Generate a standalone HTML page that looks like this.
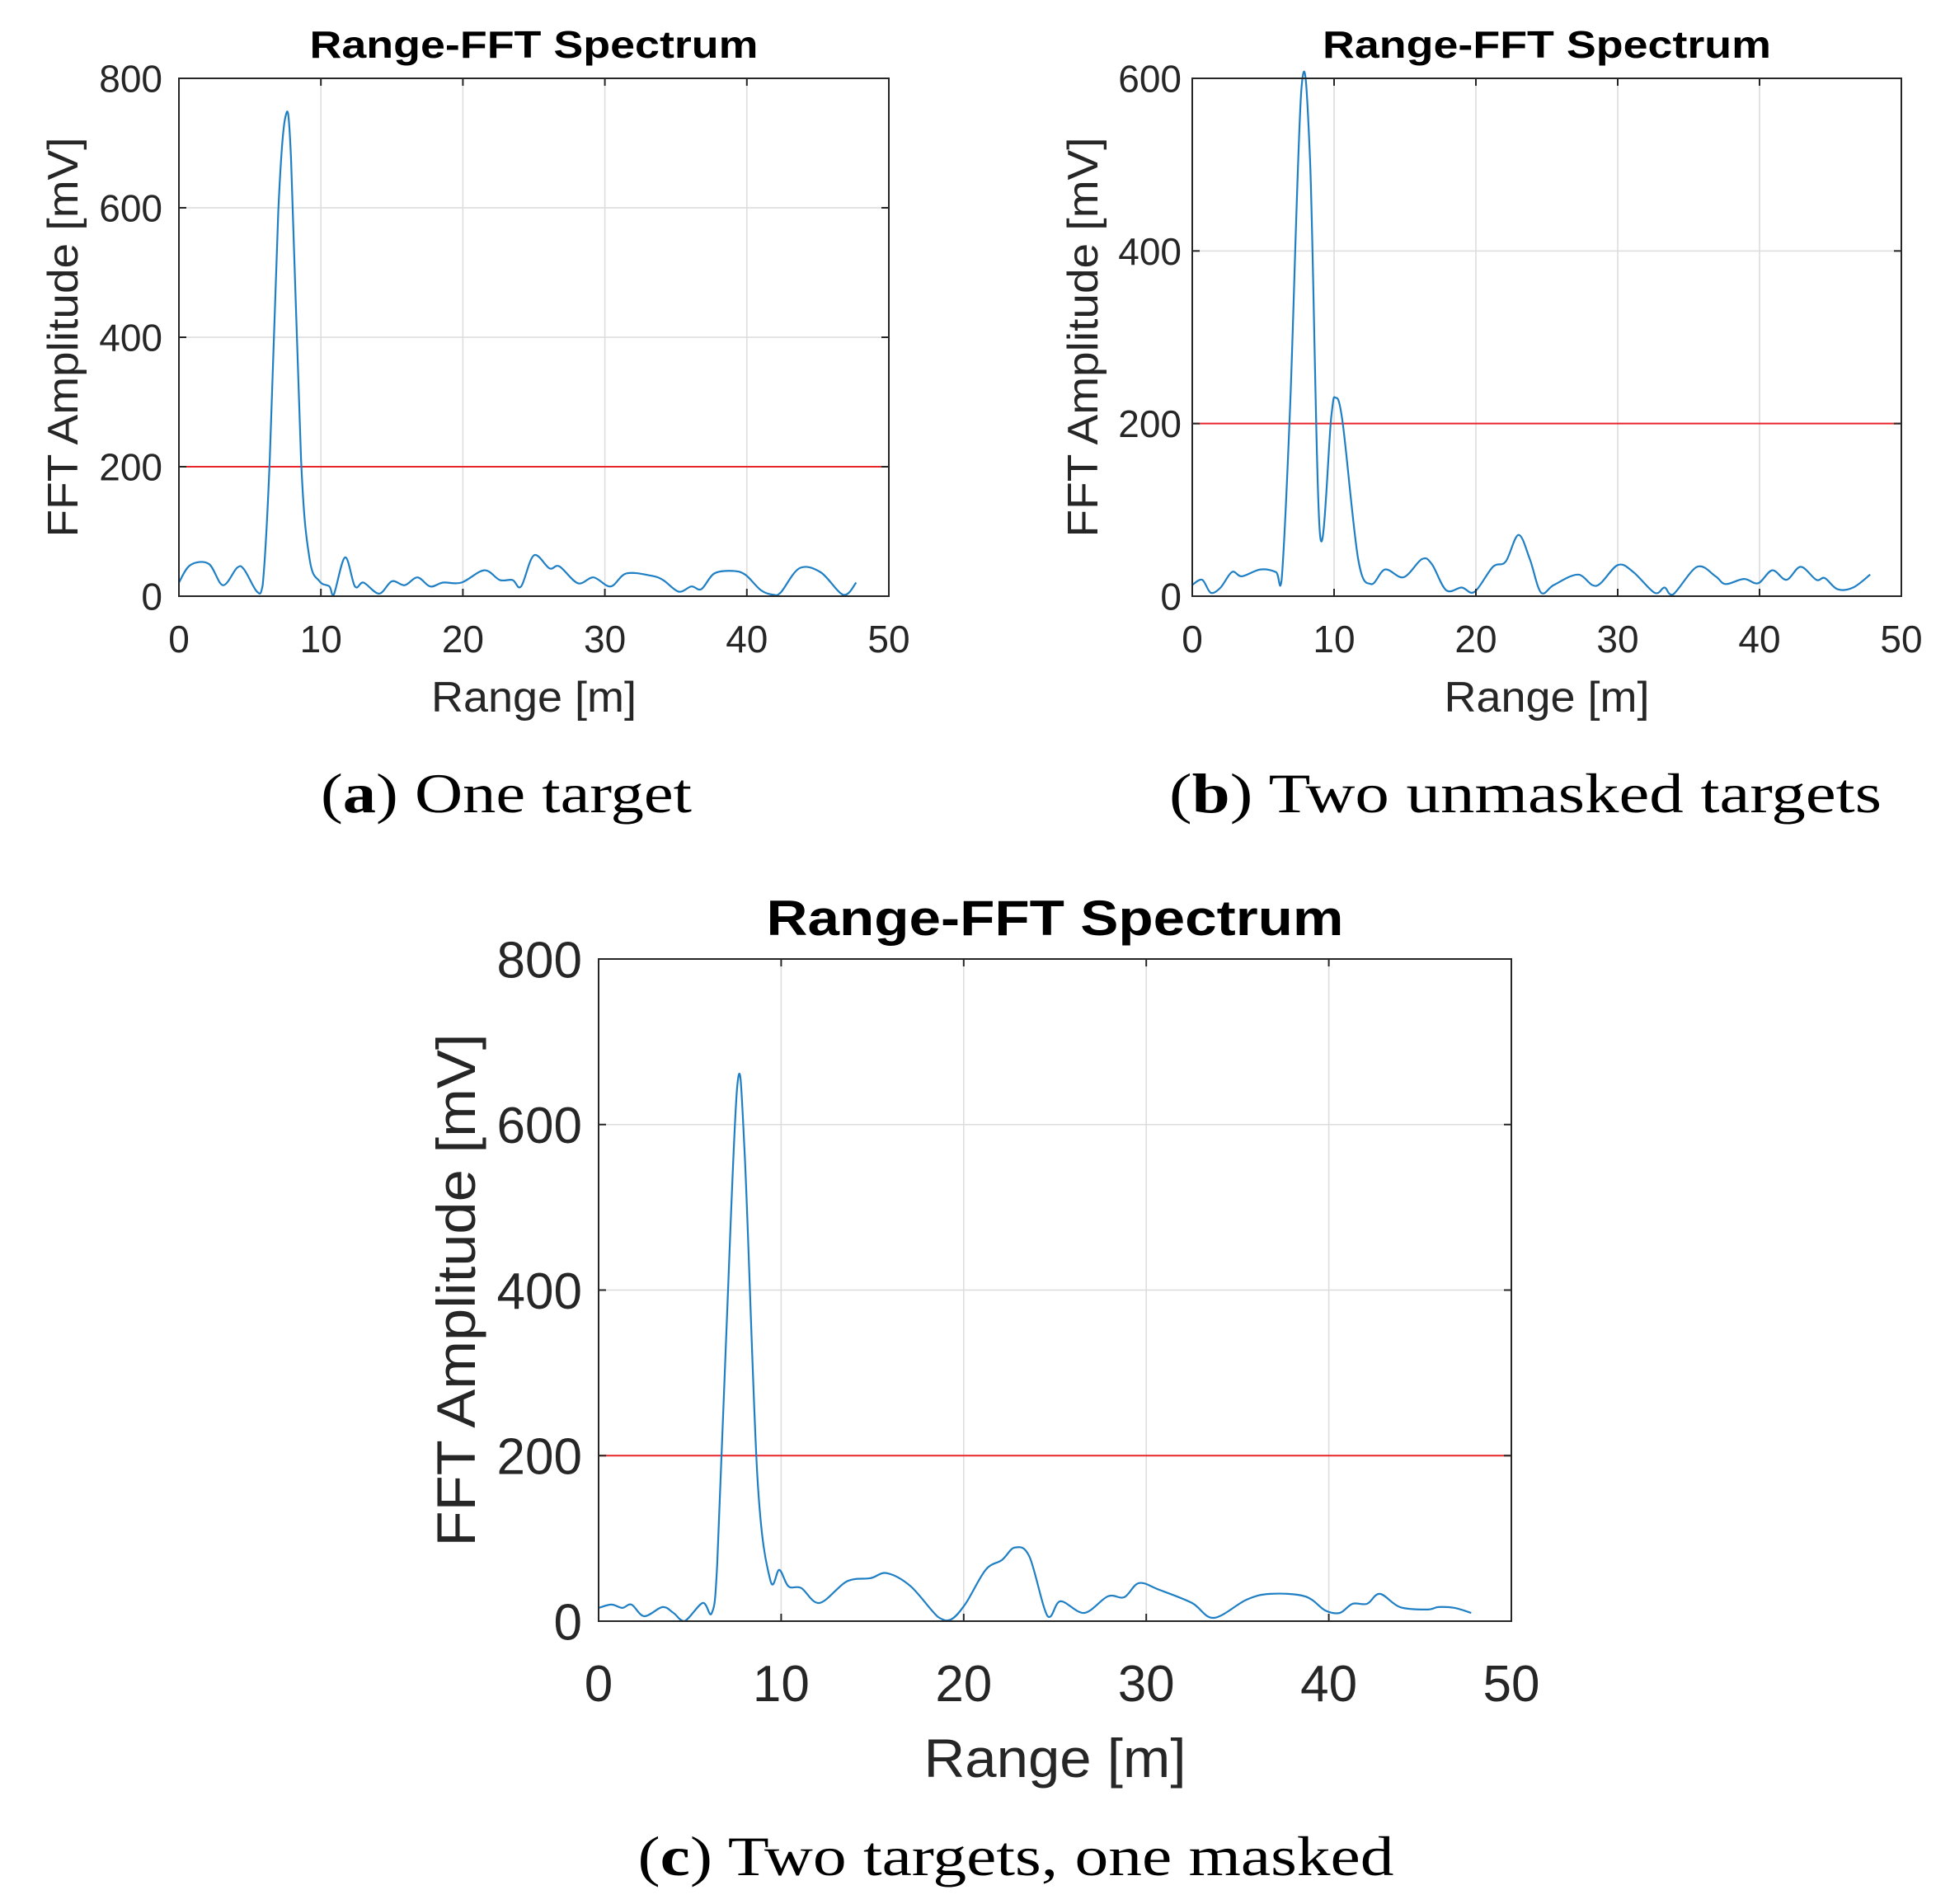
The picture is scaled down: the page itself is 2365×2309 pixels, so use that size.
<!DOCTYPE html>
<html><head><meta charset="utf-8"><style>
html,body{margin:0;padding:0;background:#fff;}
svg{display:block;}
</style></head><body>
<svg id="fig" width="2365" height="2309" viewBox="0 0 2365 2309" xmlns="http://www.w3.org/2000/svg"></svg>
<script>
// ---- Data: panel (a) One target ----
const aRange = [0,0.8,2.1,3.1,4.1,4.6,5.5,5.9,6.4,7.0,7.5,7.9,8.6,9.2,9.9,10.6,10.9,11.7,12.4,13.0,14.1,15.0,15.9,16.8,17.7,18.6,19.9,21.5,22.6,23.5,24.1,25.0,26.1,26.8,28.1,29.2,30.4,31.5,33.2,34.1,35.2,36.1,36.8,37.7,39.0,39.9,41.0,41.9,42.4,43.7,45.2,46.8,47.7];
const aAmp = [21,48,50,17,44,41,7,17,212,594,740,675,212,58,23,15,2,60,15,21,4,23,17,29,15,21,21,40,25,25,15,63,43,46,20,29,15,35,32,25,7,15,11,35,39,33,9,2,6,43,37,2,21];
// ---- Data: panel (b) Two unmasked targets ----
const bRange = [0,0.7,1.3,2.0,2.8,3.5,4.8,5.9,6.3,6.9,7.7,8.3,9.0,9.8,10.1,10.6,11.7,12.6,13.6,14.9,16.2,16.9,17.9,19.0,19.9,21.2,22.1,23.0,23.8,24.6,25.5,27.2,28.5,30.0,31.1,32.6,33.3,33.9,35.6,36.9,37.6,38.9,39.9,40.9,41.9,42.9,44.0,44.6,45.5,46.6,47.8];
const bAmp = [13,19,4,10,28,23,31,28,19,220,588,507,73,208,230,202,43,14,31,22,43,37,7,10,5,34,40,71,43,4,13,25,12,36,28,4,10,2,34,23,14,20,15,30,19,34,19,21,8,10,25];
// ---- Data: panel (c) Two targets, one masked ----
const cRange = [0,0.7,1.3,1.8,2.5,3.5,4.1,4.7,5.7,6.2,6.5,7.0,7.6,8.0,8.7,9.4,9.9,10.4,11.1,12.1,13.6,14.9,15.8,17.1,18.6,19.3,20.1,21.2,22.1,22.8,23.6,24.6,25.3,26.6,27.9,28.8,29.6,30.7,32.5,33.7,35.5,36.8,38.7,39.8,40.6,41.3,42.1,42.8,43.9,45.4,46.0,46.9,47.8];
const cAmp = [16,20,16,20,6,17,10,0,22,10,70,350,648,566,174,50,62,42,40,22,48,52,58,42,5,2,21,62,74,89,78,6,24,10,30,29,46,38,22,4,26,33,30,13,10,21,21,33,17,14,17,16,10];
const xTicks = [0,10,20,30,40,50];
const yTicksA = [0,200,400,600,800];
const yTicksB = [0,200,400,600];
const threshold = 200;

const NS = "http://www.w3.org/2000/svg";
const svg = document.getElementById('fig');
function mk(tag, attrs, parent, text){
  const e = document.createElementNS(NS, tag);
  for (const k in attrs) e.setAttribute(k, attrs[k]);
  if (text !== undefined) e.textContent = text;
  (parent || svg).appendChild(e);
  return e;
}
function smoothPath(p, yBase){
  let d = 'M' + p[0][0].toFixed(1) + ',' + p[0][1].toFixed(1);
  for (let i = 0; i < p.length - 1; i++){
    const p0 = p[Math.max(0, i-1)], p1 = p[i], p2 = p[i+1], p3 = p[Math.min(p.length-1, i+2)];
    const c1x = p1[0] + (p2[0]-p0[0])/6, c1y = Math.min(yBase, p1[1] + (p2[1]-p0[1])/6);
    const c2x = p2[0] - (p3[0]-p1[0])/6, c2y = Math.min(yBase, p2[1] - (p3[1]-p1[1])/6);
    d += ' C' + c1x.toFixed(1) + ',' + c1y.toFixed(1) + ' ' + c2x.toFixed(1) + ',' + c2y.toFixed(1) + ' ' + p2[0].toFixed(1) + ',' + p2[1].toFixed(1);
  }
  return d;
}
function panel(key, L, R, T, B, yMax, yTicks, xs, ys, f, captionBold, captionRest, capX, capY, titleY, xtY, xlY, ylX, ytX){
  const g = mk('g', {});
  
  
  const sx = v => L + (v / 50) * (R - L);
  const sy = v => B - (v / yMax) * (B - T);
  xTicks.forEach(t => { if (t > 0 && t < 50) {
    const l = mk('line', {x1:sx(t), x2:sx(t), y1:T, y2:B, stroke:'#dcdcdc', 'stroke-width':1.5}, g);
    
    
  }});
  yTicks.forEach(t => { if (t > 0 && t < yMax) {
    const l = mk('line', {x1:L, x2:R, y1:sy(t), y2:sy(t), stroke:'#dcdcdc', 'stroke-width':1.5}, g);
    
    
  }});
  const th = mk('line', {x1:L, x2:R, y1:sy(threshold), y2:sy(threshold), stroke:'#e8262a', 'stroke-width':2}, g);
  
  
  const pts = xs.map((x, i) => [sx(x), sy(ys[i])]);
  const pl = mk('path', {d:smoothPath(pts, B), fill:'none', stroke:'#1f7fc4', 'stroke-width':2.2, 'stroke-linejoin':'round'}, g);
  
  
  const box = mk('rect', {x:L, y:T, width:R-L, height:B-T, fill:'none', stroke:'#262626', 'stroke-width':2}, g);
  
  
  xTicks.forEach(t => {
    mk('line', {x1:sx(t), x2:sx(t), y1:B, y2:B-9, stroke:'#262626', 'stroke-width':2}, g);
    mk('line', {x1:sx(t), x2:sx(t), y1:T, y2:T+9, stroke:'#262626', 'stroke-width':2}, g);
    const tx = mk('text', {x:sx(t), y:xtY, 'text-anchor':'middle', 'font-size':f.tick, fill:'#262626'}, g, String(t));
    
    
  });
  yTicks.forEach(t => {
    mk('line', {x1:L, x2:L+9, y1:sy(t), y2:sy(t), stroke:'#262626', 'stroke-width':2}, g);
    mk('line', {x1:R, x2:R-9, y1:sy(t), y2:sy(t), stroke:'#262626', 'stroke-width':2}, g);
    const ty = mk('text', {x:ytX, y:sy(t) + f.tick*0.36, 'text-anchor':'end', 'font-size':f.tick, fill:'#262626'}, g, String(t));
    
    
  });
  const title = mk('text', {x:(L+R)/2, y:titleY, 'text-anchor':'middle', 'font-size':f.title, 'font-weight':'bold', fill:'#000', textLength:f.titleW, lengthAdjust:'spacingAndGlyphs'}, g, 'Range-FFT Spectrum');
  
  
  const xl = mk('text', {x:(L+R)/2, y:xlY, 'text-anchor':'middle', 'font-size':f.label, fill:'#262626', textLength:f.xlW, lengthAdjust:'spacingAndGlyphs'}, g, 'Range [m]');
  
  
  const cy = (T+B)/2;
  const yl = mk('text', {x:ylX, y:cy, 'text-anchor':'middle', 'font-size':f.label, fill:'#262626', textLength:f.ylW, lengthAdjust:'spacingAndGlyphs', transform:'rotate(-90 '+ylX+' '+cy+')'}, g, 'FFT Amplitude [mV]');
  
  
  const cap = mk('text', {x:capX, y:capY, 'text-anchor':'middle', 'font-size':f.cap, 'font-family':'"Liberation Serif", serif', fill:'#000', textLength:f.capW, lengthAdjust:'spacingAndGlyphs'}, g);
  
  
  mk('tspan', {}, cap, '(');
  mk('tspan', {'font-weight':'bold'}, cap, captionBold);
  mk('tspan', {}, cap, ') ' + captionRest);
}
svg.setAttribute('font-family', '"Liberation Sans", Arial, sans-serif');
const fA = {tick:46, title:46, label:52, cap:68, titleW:544, xlW:249, ylW:485, capW:450};
const fB = {tick:46, title:46, label:52, cap:68, titleW:544, xlW:249, ylW:485, capW:864};
const fC = {tick:62, title:60, label:66, cap:68, titleW:700, xlW:318, ylW:622, capW:917};
panel('a', 217, 1078, 95, 723, 800, yTicksA, aRange, aAmp, fA, 'a', 'One target', 614, 985, 70, 791, 863, 94, 197);
panel('b', 1446, 2306, 95, 723, 600, yTicksB, bRange, bAmp, fB, 'b', 'Two unmasked targets', 1850, 985, 70, 791, 863, 1331, 1433);
panel('c', 726, 1833, 1163, 1966, 800, yTicksA, cRange, cAmp, fC, 'c', 'Two targets, one masked', 1232, 2274, 1134, 2063, 2155, 576, 706);
</script>
</body></html>
